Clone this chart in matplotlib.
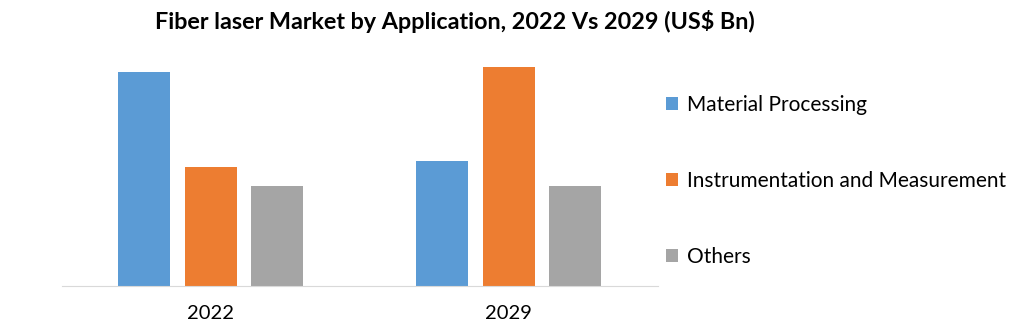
import matplotlib.pyplot as plt
import numpy as np

plt.rcParams['font.family'] = ['Lato', 'DejaVu Sans']

years = ["2022", "2029"]
segments = ["Material Processing", "Instrumentation and Measurement", "Others"]
material = [4.53, 2.65]
instrument = [2.52, 4.64]
others = [2.12, 2.12]
colors = ["#5b9bd5", "#ed7d31", "#a5a5a5"]

fig = plt.figure(figsize=(10.24, 3.29), dpi=100)
ax = fig.add_axes([0.0605, 0.1307, 0.582, 0.717])

x = np.arange(len(years))
w = 0.1745
step = 0.223
for i, (vals, c, lab) in enumerate(zip([material, instrument, others], colors, segments)):
    ax.bar(x + (i - 1) * step, vals, width=w, color=c, label=lab)

ax.set_xlim(-0.5, 1.5)
ax.set_ylim(0, 5)
ax.set_yticks([])
ax.set_xticks(x)
ax.set_xticklabels(years, fontsize=14.5)
ax.tick_params(axis='x', length=0, pad=14)
for s in ["top", "right", "left"]:
    ax.spines[s].set_visible(False)
ax.spines["bottom"].set_color("#d9d9d9")

fig.text(0.444, 0.935, "Fiber laser Market by Application, 2022 Vs 2029 (US$ Bn)",
         ha="center", va="center", fontsize=16.8, fontweight="bold")

fig.legend(loc="center left", bbox_to_anchor=(0.632, 0.45), frameon=False,
           fontsize=15, handlelength=0.6, handleheight=0.6, handletextpad=0.4,
           labelspacing=2.7)

fig.savefig("out.png", dpi=100)
